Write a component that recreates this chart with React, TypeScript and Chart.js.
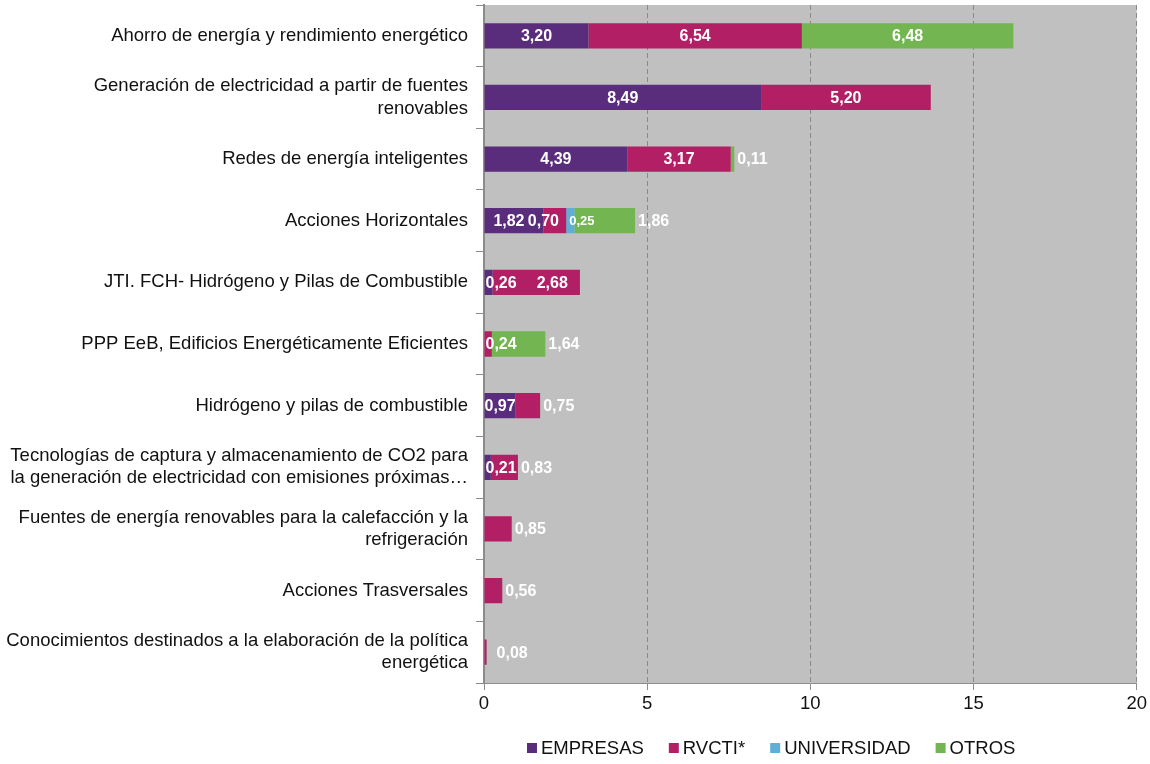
import React, { useEffect, useRef } from 'react';
import { Chart, registerables } from 'chart.js';

Chart.register(...registerables);

const categories: (string | string[])[] = [
  'Ahorro de energía y rendimiento energético',
  ['Generación de electricidad a partir de fuentes', 'renovables'],
  'Redes de energía inteligentes',
  'Acciones Horizontales',
  'JTI. FCH- Hidrógeno y Pilas de Combustible',
  'PPP EeB, Edificios Energéticamente Eficientes',
  'Hidrógeno y pilas de combustible',
  ['Tecnologías de captura y almacenamiento de CO2 para', 'la generación de electricidad con emisiones próximas…'],
  ['Fuentes de energía renovables para la calefacción y la', 'refrigeración'],
  'Acciones Trasversales',
  ['Conocimientos destinados a la elaboración de la política', 'energética'],
];

const seriesNames = ['EMPRESAS', 'RVCTI*', 'UNIVERSIDAD', 'OTROS'];

const empresas = [3.2, 8.49, 4.39, 1.82, 0.26, null, 0.97, 0.21, null, null, null];
const rvcti = [6.54, 5.2, 3.17, 0.7, 2.68, 0.24, 0.75, 0.83, 0.85, 0.56, 0.08];
const universidad = [null, null, null, 0.25, null, null, null, null, null, null, null];
const otros = [6.48, null, 0.11, 1.86, null, 1.64, null, null, null, null, null];

const xTicks = [0, 5, 10, 15, 20];

// label placement codes: c = centred in segment, m = centred a little left of the segment centre,
// b = centred on segment start, r = centred a little right of the segment centre,
// s = starting at segment start, e = just after segment end, f = further after segment end,
// S = small, starting at segment start
const anchorsEmpresas = ['c', 'c', 'c', 'm', 's', '', 'c', 's', '', '', ''];
const anchorsRvcti = ['c', 'c', 'c', 'b', 'r', 's', 'e', 'e', 'e', 'e', 'f'];
const anchorsUniversidad = ['', '', '', 'S', '', '', '', '', '', '', ''];
const anchorsOtros = ['c', '', 'e', 'e', '', 'e', '', '', '', '', ''];

const colors = ['#592d7b', '#b31f64', '#5eafd8', '#72b551'];

const FONT = "'Liberation Sans', Arial, sans-serif";

export default function App() {
  const canvasRef = useRef<HTMLCanvasElement | null>(null);

  useEffect(() => {
    const canvas = canvasRef.current;
    if (!canvas) return;
    const seriesData = [empresas, rvcti, universidad, otros];
    const anchors = [anchorsEmpresas, anchorsRvcti, anchorsUniversidad, anchorsOtros];

    const bgPlugin = {
      id: 'plotBg',
      beforeDraw(chart: any) {
        const { ctx, chartArea } = chart;
        ctx.save();
        ctx.fillStyle = '#c0c0c0';
        ctx.fillRect(chartArea.left, chartArea.top, chartArea.right - chartArea.left, chartArea.bottom - chartArea.top);
        ctx.restore();
      },
    };

    const labelPlugin = {
      id: 'segLabels',
      afterDatasetsDraw(chart: any) {
        const { ctx } = chart;
        ctx.save();
        ctx.fillStyle = '#ffffff';
        ctx.textBaseline = 'middle';
        chart.data.datasets.forEach((ds: any, di: number) => {
          const meta = chart.getDatasetMeta(di);
          meta.data.forEach((el: any, i: number) => {
            const v = ds.data[i];
            if (v == null) return;
            const a = anchors[di][i];
            if (!a) return;
            const { x, base, y } = el.getProps(['x', 'base', 'y'], true);
            const text = v.toFixed(2).replace('.', ',');
            ctx.font = a === 'S' ? `bold 13px ${FONT}` : `bold 16px ${FONT}`;
            let tx = 0;
            if (a === 'c' || a === 'm' || a === 'r') {
              ctx.textAlign = 'center';
              tx = (x + base) / 2 + (a === 'm' ? -5 : a === 'r' ? 16 : 0);
            } else if (a === 'b') {
              ctx.textAlign = 'center';
              tx = base;
            } else if (a === 's' || a === 'S') {
              ctx.textAlign = 'left';
              tx = base + (a === 'S' ? 3 : 1);
            } else {
              ctx.textAlign = 'left';
              tx = x + (a === 'f' ? 10 : 3);
            }
            ctx.fillText(text, tx, y + 1);
          });
        });
        ctx.restore();
      },
    };

    const legendPlugin = {
      id: 'customLegend',
      afterDraw(chart: any) {
        const { ctx, chartArea } = chart;
        ctx.save();
        ctx.font = `18.5px ${FONT}`;
        ctx.textBaseline = 'middle';
        ctx.textAlign = 'left';
        let x = chartArea.left + 43;
        const y = chart.height - 16;
        chart.data.datasets.forEach((ds: any) => {
          ctx.fillStyle = ds.backgroundColor;
          ctx.fillRect(x, y - 5, 10, 10);
          ctx.fillStyle = '#111111';
          ctx.fillText(ds.label, x + 14, y + 1);
          x += 14 + ctx.measureText(ds.label).width + 25;
        });
        ctx.restore();
      },
    };

    const chart = new Chart(canvas, {
      type: 'bar',
      data: {
        labels: categories,
        datasets: seriesNames.map((name, i) => ({
          label: name,
          data: seriesData[i] as any,
          backgroundColor: colors[i],
          borderWidth: 0,
          barPercentage: 0.41,
          categoryPercentage: 1,
        })),
      },
      options: {
        indexAxis: 'y',
        animation: false,
        responsive: true,
        maintainAspectRatio: false,
        layout: { padding: { top: 5, right: 13, left: 0, bottom: 0 } },
        plugins: {
          legend: { display: false },
          tooltip: { enabled: false },
        },
        scales: {
          x: {
            stacked: true,
            min: 0,
            max: 20,
            afterBuildTicks(scale: any) {
              scale.ticks = xTicks.map((v) => ({ value: v }));
            },
            afterFit(scale: any) {
              scale.height = 81;
            },
            ticks: {
              font: { family: FONT, size: 18.5 },
              color: '#111111',
              padding: 3,
            },
            grid: {
              color: '#8a8a8a',
              tickColor: '#8c8c8c',
              tickLength: 7,
              tickBorderDash: [],
              lineWidth: 1,
            },
            border: { color: '#8c8c8c', width: 1, dash: [5, 3] },
          },
          y: {
            stacked: true,
            afterFit(scale: any) {
              scale.width = 484;
              scale.paddingTop = 0;
              scale.paddingBottom = 0;
            },
            ticks: {
              font: { family: FONT, size: 18.5 },
              color: '#111111',
              padding: 8,
              autoSkip: false,
            },
            grid: {
              offset: true,
              drawOnChartArea: false,
              tickLength: 8,
              color: '#8c8c8c',
            },
            border: { color: '#8c8c8c', width: 2 },
          },
        },
      },
      plugins: [bgPlugin, labelPlugin, legendPlugin],
    });
    return () => chart.destroy();
  }, []);

  return (
    <div style={{ position: 'fixed', left: 0, top: 0, width: 1150, height: 764, background: '#ffffff' }}>
      <canvas ref={canvasRef} />
    </div>
  );
}
